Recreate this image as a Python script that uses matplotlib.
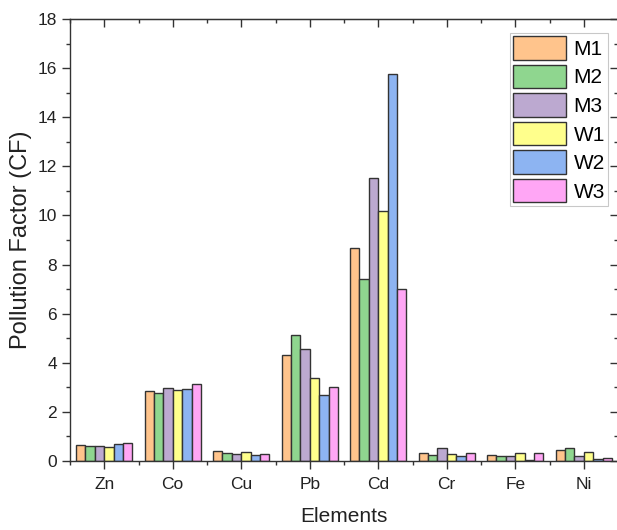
import matplotlib
matplotlib.use("Agg")
import matplotlib.pyplot as plt
import numpy as np
from matplotlib.ticker import MultipleLocator

elements = ["Zn", "Co", "Cu", "Pb", "Cd", "Cr", "Fe", "Ni"]
series_names = ["M1", "M2", "M3", "W1", "W2", "W3"]
M1 = [0.65, 2.85, 0.39, 4.30, 8.67, 0.34, 0.23, 0.43]
M2 = [0.62, 2.77, 0.32, 5.15, 7.42, 0.23, 0.22, 0.54]
M3 = [0.60, 2.99, 0.27, 4.58, 11.51, 0.54, 0.20, 0.20]
W1 = [0.57, 2.91, 0.38, 3.38, 10.20, 0.28, 0.32, 0.35]
W2 = [0.70, 2.93, 0.23, 2.68, 15.76, 0.20, 0.06, 0.08]
W3 = [0.73, 3.12, 0.30, 3.00, 7.01, 0.34, 0.34, 0.12]
series = [M1, M2, M3, W1, W2, W3]
colors = ["#FFC48C", "#8FD68F", "#BCA9D0", "#FFFF8C", "#8DB4F2", "#FFA6F5"]

plt.rcParams['font.family'] = ['Liberation Sans', 'DejaVu Sans']
W, H = 617, 530
fig = plt.figure(figsize=(W / 100, H / 100), dpi=100)
left, right, top, bottom = 70, 618, 19, 461
ax = fig.add_axes([left / W, (H - bottom) / H, (right - left) / W, (bottom - top) / H])

x = np.arange(1, len(elements) + 1)
w = 0.137
for i, (name, vals, c) in enumerate(zip(series_names, series, colors)):
    ax.bar(x + (i - 2.5) * w, vals, width=w, color=c, edgecolor="#333333",
           linewidth=1.0, label=name)

ax.set_xlim(0.5, 8.5)
ax.set_ylim(0, 18)
ax.set_xticks(x)
ax.set_xticklabels(elements)
ax.xaxis.set_minor_locator(MultipleLocator(0.5))
ax.yaxis.set_major_locator(MultipleLocator(2))
ax.yaxis.set_minor_locator(MultipleLocator(1))
ax.tick_params(axis='both', which='major', direction='out', length=5.5, width=1,
               labelsize=12.5, colors="#333333", labelcolor="#222222")
ax.tick_params(axis='both', which='minor', direction='out', length=3, width=1, colors="#333333")
ax.tick_params(axis='x', which='major', pad=6)
ax.tick_params(axis='y', which='major', pad=4)
ax.set_ylabel("Pollution Factor (CF)", fontsize=17, labelpad=4, color="#222222")
ax.set_xlabel("Elements", fontsize=15, labelpad=11, color="#222222")
for s in ax.spines.values():
    s.set_linewidth(1.0)
    s.set_color("#333333")

# mirrored inward ticks on top and right
axt = ax.secondary_xaxis('top')
axt.set_xticks(x)
axt.xaxis.set_minor_locator(MultipleLocator(0.5))
axt.tick_params(which='major', direction='in', length=5.5, width=1, labeltop=False, colors="#333333")
axt.tick_params(which='minor', direction='in', length=3, width=1, colors="#333333")
axt.set_xticklabels([])
axr = ax.secondary_yaxis('right')
axr.yaxis.set_major_locator(MultipleLocator(2))
axr.yaxis.set_minor_locator(MultipleLocator(1))
axr.tick_params(which='major', direction='in', length=5.5, width=1, labelright=False, colors="#333333")
axr.tick_params(which='minor', direction='in', length=3, width=1, colors="#333333")
axr.set_yticklabels([])

leg = ax.legend(loc="upper right", bbox_to_anchor=(608 / W, 1 - 33 / H),
                bbox_transform=fig.transFigure, fontsize=15,
                handlelength=2.55, handleheight=1.35, labelspacing=0.25,
                borderpad=0.15, handletextpad=0.35, frameon=True, fancybox=False,
                edgecolor="#bbbbbb", borderaxespad=0)
leg.get_frame().set_linewidth(0.8)

fig.savefig("out.png", dpi=100)
